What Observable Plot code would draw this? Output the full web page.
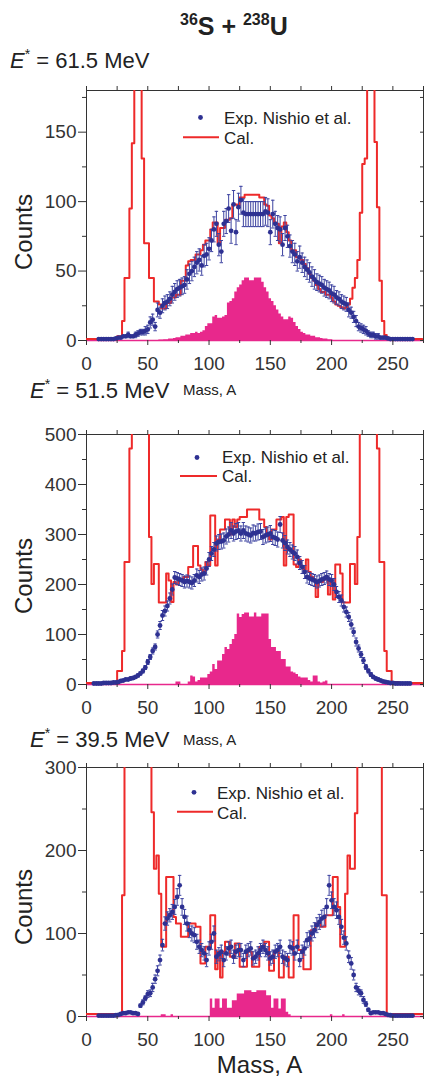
<!DOCTYPE html>
<html><head><meta charset="utf-8">
<script src="https://cdn.jsdelivr.net/npm/d3@7"></script>
<script src="https://cdn.jsdelivr.net/npm/@observablehq/plot@0.6"></script>
<style>
body{margin:0;background:#fff;width:424px;height:1079px;position:relative;overflow:hidden;font-family:"Liberation Sans",Arial,Helvetica,sans-serif;}
.panel{position:absolute;left:0;}
#overlay{position:absolute;left:0;top:0;}
#overlay text{fill:#222;font-family:"Liberation Sans",Arial,Helvetica,sans-serif;}
</style></head><body>
<div id="p1" class="panel"></div>
<div id="p2" class="panel"></div>
<div id="p3" class="panel"></div>
<svg id="overlay" width="424" height="1079">
  <text x="180" y="35" font-size="25" font-weight="bold"><tspan font-size="16" dy="-10">36</tspan><tspan dy="10">S&#160;+&#160;</tspan><tspan font-size="16" dy="-10">238</tspan><tspan dy="10">U</tspan></text>
  <text x="10" y="68" font-size="22"><tspan font-style="italic">E</tspan><tspan font-size="14" dy="-9">*</tspan><tspan dy="9">&#160;= 61.5 MeV</tspan></text>
  <text x="30" y="398" font-size="22"><tspan font-style="italic">E</tspan><tspan font-size="14" dy="-9">*</tspan><tspan dy="9">&#160;= 51.5 MeV</tspan></text>
  <text x="30" y="747" font-size="22"><tspan font-style="italic">E</tspan><tspan font-size="14" dy="-9">*</tspan><tspan dy="9">&#160;= 39.5 MeV</tspan></text>
  <text x="183" y="395" font-size="15">Mass, A</text>
  <text x="183" y="745" font-size="15">Mass, A</text>
  <text x="259.5" y="1073" font-size="24" text-anchor="middle">Mass, A</text>
  <text transform="translate(32,232) rotate(-90)" font-size="24" text-anchor="middle">Counts</text>
  <text transform="translate(32,576) rotate(-90)" font-size="24" text-anchor="middle">Counts</text>
  <text transform="translate(32,907) rotate(-90)" font-size="24" text-anchor="middle">Counts</text>
  <circle cx="200.5" cy="117.5" r="2.4" fill="#2e3192"/>
  <text x="224" y="124" font-size="17">Exp. Nishio et al.</text>
  <line x1="183" x2="219" y1="137.3" y2="137.3" stroke="#ee2a2a" stroke-width="2"/>
  <text x="224" y="144" font-size="17">Cal.</text>
  <circle cx="197" cy="457.5" r="2.4" fill="#2e3192"/>
  <text x="222" y="463" font-size="17">Exp. Nishio et al.</text>
  <line x1="180" x2="217" y1="476" y2="476" stroke="#ee2a2a" stroke-width="2"/>
  <text x="222" y="482" font-size="17">Cal.</text>
  <circle cx="194" cy="792.3" r="2.4" fill="#2e3192"/>
  <text x="217" y="799" font-size="17">Exp. Nishio et al.</text>
  <line x1="177" x2="213" y1="811.7" y2="811.7" stroke="#ee2a2a" stroke-width="2"/>
  <text x="217" y="819" font-size="17">Cal.</text>
</svg>
<script>
const massGrid = [0,2,4,6,8,10,12,14,16,18,
20,22,24,26,28,30,32,34,36,38,
40,42,44,46,48,50,52,54,56,58,
60,62,64,66,68,70,72,74,76,78,
80,82,84,86,88,90,92,94,96,98,
100,102,104,106,108,110,112,114,116,118,
120,122,124,126,128,130,132,134,136,138,
140,142,144,146,148,150,152,154,156,158,
160,162,164,166,168,170,172,174,176,178,
180,182,184,186,188,190,192,194,196,198,
200,202,204,206,208,210,212,214,216,218,
220,222,224,226,228,230,232,234,236,238,
240,242,244,246,248,250,252,254,256,258,
260,262,264,266,268,270,272,274];

// E* = 61.5 MeV
const calc61 = [1,1,1,1,1,1,1,1,1,1,
1,1,1,3,3,14,45,45,95,142,
900,900,900,131,70,70,45,45,28,28,
26,23,23,27,27,31,31,33,33,43,
43,54,57,58,58,62,62,65,69,72,
72,80,85,85,70,81,81,87,87,88,
98,98,97,103,103,105,105,105,105,105,
105,103,103,98,97,90,88,85,84,70,
82,85,78,72,65,65,60,60,58,55,
52,48,45,43,40,37,35,35,33,33,
31,28,26,25,24,23,24,26,30,38,
45,58,92,127,131,900,900,900,143,96,
43,14,4,2,1,1,1,1,1,1,
1,1,1,1,1,1,1,1];
const exp61 = [null,null,null,null,null,1,1,1,1,1,
1,1,1.5,2,2,3,3,4,3,3,
4,5,6,6,7,8,13,15,10,22,
20,25,27,28,30,33,35,37,38,39,
40,44,48,50,53,56,58,54,61,62,
66,72,80,84,69,64,84,86,95,79,
98,78,96,101,92,91,91,91,91,91,
91,91,91,93,92,78,91,84,81,80,
69,81,75,68,64,62,57,60,56,53,
51,49,46,44,42,41,40,38,37,36,
34,33,31,30,28,27,26,22,20,17,
14,10,9,8,7,5,4,4,3,3,
2,2,2,1.5,1,1,1,1,1,1,
1,1,1,1,null,null,null,null];
const err61 = [null,null,null,null,null,1,1,1,1,1,
1,1,1,1,1,1,1,2,1,1,
2,2,2,2,3,3,4,4,3,5,
4,5,5,5,5,6,6,6,6,6,
6,7,7,7,7,8,8,7,8,8,
8,8,9,9,8,8,9,9,10,9,
10,9,10,10,10,9,9,9,9,9,
9,9,9,10,10,9,10,9,9,9,
8,9,8,8,8,8,7,8,7,7,
7,7,7,7,6,6,6,6,6,6,
6,6,5,5,5,5,5,5,4,4,
4,3,3,3,3,2,2,2,2,2,
1,1,1,1,1,1,1,1,1,1,
1,1,1,1,null,null,null,null];
const fis61 = [0,0,0,0,0,0,0,0,0,0,
0,0,0,0,0,0,0,0,0,0,
0,0,0,0,0,0,0,0,0,0,
0.3,0.3,0.5,0.5,1,1,1.5,2,2,3,
3,4,4,5,5,6,5,6,7,10,
12,12,17,18,16,16,17,18,27,28,
30,35,38,40,43,45,45,43,43,45,
45,45,42,38,35,30,28,25,22,19,
17,15,15,17,16,13,10,8,6,5,
4,4,3,3,2,2,1.5,1,1,0.5,
0.5,0,0,0,0,0,0,0,0,0,
0,0,0,0,0,0,0,0,0,0,
0,0,0,0,0,0,0,0,0,0,
0,0,0,0,0,0,0,0];

// E* = 51.5 MeV
const calc51 = [3,3,3,3,3,3,3,3,3,3,
5,5,5,27,27,67,245,245,472,900,
900,900,900,900,900,900,295,201,241,241,
164,164,164,222,208,165,205,200,210,210,
215,215,235,235,277,277,238,230,225,245,
238,338,338,238,290,310,310,330,330,300,
330,315,330,335,335,335,350,350,350,350,
350,330,330,315,300,290,310,310,330,330,
335,238,335,340,340,240,235,250,235,230,
250,225,215,210,175,205,205,210,210,180,
205,170,240,240,222,164,164,164,241,241,
201,295,900,900,900,900,900,900,900,472,
245,245,67,27,27,5,5,5,3,3,
3,3,3,3,3,3,3,3];
const exp51 = [null,null,null,2,2,2,2,3,3,3,
3,4,4,5,7,8,10,10,12,13,
15,18,22,27,34,45,55,67,75,100,
118,138,147,157,172,190,214,212,210,208,
205,207,205,203,208,218,215,220,222,232,
250,262,270,282,285,286,288,296,300,308,
302,306,308,302,308,302,300,298,303,302,
305,306,295,298,300,302,295,293,290,320,
288,283,275,270,265,262,255,243,235,225,
215,212,210,208,205,207,210,212,215,210,
208,200,185,175,168,155,145,135,120,105,
85,72,60,48,35,27,20,15,12,10,
8,6,5,4,3,3,2,2,2,2,
2,2,2,null,null,null,null,null];
const err51 = [null,null,null,1,1,1,1,1,1,1,
1,1,1,2,2,2,2,2,3,3,
3,3,3,4,4,5,5,6,6,7,
8,10,10,10,11,11,12,12,12,12,
12,12,12,12,12,13,13,13,13,13,
14,14,14,15,15,15,15,15,15,16,
15,16,16,15,16,15,15,15,16,15,
16,16,15,15,15,16,15,15,15,16,
15,15,14,14,14,14,14,13,13,13,
12,12,12,12,12,12,12,12,12,12,
12,12,11,11,11,10,10,9,9,8,
8,7,6,6,5,4,4,3,3,3,
2,2,2,2,1,1,1,1,1,1,
1,1,1,null,null,null,null,null];
const fis51 = [0,0,0,0,0,0,0,0,0,0,
0,0,0,0,0,0,0,0,0,0,
0,0,0,0,0,0,0,0,0,0,
0,0,0,0,0,0,0,5,5,0,
0,0,5,17,15,5,8,13,13,13,
20,25,40,30,47,47,60,74,70,80,
90,100,141,134,140,143,143,135,135,143,
135,135,141,141,141,90,74,74,66,66,
50,50,35,35,25,23,20,15,13,13,
13,8,5,17,17,5,3,5,7,0,
0,0,0,0,0,0,0,0,0,0,
0,0,0,0,0,0,0,0,0,0,
0,0,0,0,0,0,0,0,0,0,
0,0,0,0,0,0,0,0];

// E* = 39.5 MeV
const calc39 = [3,3,3,3,3,3,3,3,3,3,
3,3,3,3,3,146,900,900,900,900,
900,900,900,900,900,900,900,246,178,194,
148,84,84,168,168,168,120,112,112,96,
96,96,112,112,112,108,108,64,64,84,
84,122,122,57,78,47,78,90,90,72,
72,88,88,60,60,60,78,78,60,60,
60,84,84,90,90,55,55,78,78,47,
47,72,72,47,47,122,122,80,80,57,
57,57,104,104,112,112,108,108,122,122,
122,168,168,132,84,84,148,194,178,178,
245,900,900,900,900,900,900,900,900,900,
900,146,146,3,3,3,3,3,3,3,
3,3,3,3,3,3,3,3];
const exp39 = [null,null,null,null,null,1,1,1,1,1,
1,1,1.5,2,3,4,4,5,5,4,
4,3,13,17,22,27,28,35,45,55,
68,86,112,118,122,126,132,144,158,132,
120,112,104,100,98,90,84,80,76,68,
82,90,100,72,75,78,68,76,82,84,
72,78,80,80,68,78,80,82,70,72,
76,80,84,80,76,70,72,78,80,84,
72,70,68,84,82,76,84,68,78,82,
92,94,100,104,110,114,118,120,132,158,
140,132,128,120,108,95,88,72,64,50,
35,31,28,20,15,8,4,5,5,5,
4,4,3,2,1.5,1,1,1,1,1,
1,1,1,1,null,null,null,null];
const err39 = [null,null,null,null,null,1,1,1,1,1,
1,1,1,1,1,1,1,1,1,1,
1,1,2,3,3,4,4,5,5,6,
6,7,8,8,8,9,9,10,12,10,
9,9,9,9,9,9,8,8,8,8,
8,9,9,8,8,8,8,8,8,8,
8,8,8,8,8,8,8,8,8,8,
8,8,8,8,8,8,8,8,8,8,
8,8,8,8,8,8,8,8,8,8,
9,9,9,9,9,9,10,10,10,12,
10,10,10,9,9,8,8,7,7,6,
5,5,4,4,3,2,1,1,1,1,
1,1,1,1,1,1,1,1,1,1,
1,1,1,1,null,null,null,null];
const fis39 = [0,0,0,0,0,0,0,0,0,0,
0,0,0,0,0,0,0,0,0,0,
0,0,0,0,0,0,0,0,0,0,
0,2,2,0,0,2,0,0,0,0,
0,0,0,0,0,0,0,0,0,0,
0,21,10,21,21,10,21,21,10,10,
19,19,27,27,27,31,31,31,29,29,
31,31,31,31,25,25,10,21,21,9,
21,21,5,2,0,0,0,0,0,0,
0,0,0,0,0,0,0,0,0,0,
2,0,0,0,0,2,0,0,0,0,
0,0,0,0,0,0,0,0,0,0,
0,0,0,0,0,0,0,0,0,0,
0,0,0,0,0,0,0,0];

const xMajor = [0,50,100,150,200,250];
const xMinor = [25,75,125,175,225,275];
const yTicks61 = [0,50,100,150], yMinor61 = [25,75,125,175];
const yTicks51 = [0,100,200,300,400,500], yMinor51 = [50,150,250,350,450];
const yTicks39 = [0,100,200,300], yMinor39 = [50,150,250];
const yTop = [180, 500, 300];

const BLUE = "#2e3192", BAR = "#3d43a0", RED = "#ee2a2a", MAG = "#e8288c", AX = "#333";

function makePanel(id, cfg) {
  const rows = massGrid.map((A, i) => ({A, calc: cfg.calc[i], exp: cfg.exp[i], err: cfg.err[i], fis: cfg.fis[i]}));
  const pts = rows.filter(d => d.exp != null);
  const capped = pts.filter(d => d.err >= 2);
  const frameH = cfg.bottom - cfg.top;
  const height = frameH + 50;
  const el = document.getElementById(id);
  el.style.top = (cfg.top - 10) + "px";
  const chart = Plot.plot({
    width: 424, height,
    marginLeft: 86, marginRight: 1, marginTop: 10, marginBottom: 40,
    x: {domain: [0, 275], label: null},
    y: {domain: [0, cfg.yTop], label: null},
    style: {fontFamily: '"Liberation Sans", Arial, Helvetica, sans-serif', fontSize: "19px", color: AX, background: "transparent", overflow: "visible"},
    marks: [
      Plot.areaY(rows, {x: "A", y1: 0, y2: "fis", curve: "step", fill: MAG, clip: true}),
      Plot.frame({stroke: AX}),
      Plot.ruleY([0], {stroke: MAG, strokeWidth: 1.6}),
      Plot.line(rows, {x: "A", y: "calc", curve: "step", stroke: RED, strokeWidth: 2, clip: true}),
      Plot.ruleX(pts, {x: "A", y1: d => d.exp - d.err, y2: d => d.exp + d.err, stroke: BAR, strokeWidth: 1, clip: true}),
      Plot.link(capped, {x1: d => d.A - 1.4, x2: d => d.A + 1.4, y1: d => d.exp + d.err, y2: d => d.exp + d.err, stroke: BAR, strokeWidth: 1}),
      Plot.link(capped, {x1: d => d.A - 1.4, x2: d => d.A + 1.4, y1: d => d.exp - d.err, y2: d => d.exp - d.err, stroke: BAR, strokeWidth: 1}),
      Plot.dot(pts, {x: "A", y: "exp", r: 2.4, fill: BLUE, stroke: null}),
      Plot.axisX({anchor: "bottom", ticks: xMajor, tickSize: 5, tickPadding: 11, fontSize: 19, stroke: AX, tickFormat: d => String(d)}),
      Plot.axisX({anchor: "bottom", ticks: xMinor, tickSize: 3, stroke: AX, tickFormat: () => ""}),
      Plot.axisX({anchor: "top", ticks: xMajor.concat(xMinor), tickSize: 5, stroke: AX, tickFormat: () => ""}),
      Plot.axisY({anchor: "left", ticks: cfg.yMajor, tickSize: 8, tickPadding: 2, fontSize: 19, stroke: AX, tickFormat: d => String(d)}),
      Plot.axisY({anchor: "left", ticks: cfg.yMinor, tickSize: 4, stroke: AX, tickFormat: () => ""}),
      Plot.axisY({anchor: "right", ticks: cfg.yMajor.concat(cfg.yMinor), tickSize: -4, stroke: AX, tickFormat: () => ""})
    ]
  });
  el.appendChild(chart);
}

makePanel("p1", {calc: calc61, exp: exp61, err: err61, fis: fis61, yTop: yTop[0], yMajor: yTicks61, yMinor: yMinor61, top: 90, bottom: 340});
makePanel("p2", {calc: calc51, exp: exp51, err: err51, fis: fis51, yTop: yTop[1], yMajor: yTicks51, yMinor: yMinor51, top: 434, bottom: 684});
makePanel("p3", {calc: calc39, exp: exp39, err: err39, fis: fis39, yTop: yTop[2], yMajor: yTicks39, yMinor: yMinor39, top: 767, bottom: 1016});
</script>
</body></html>
